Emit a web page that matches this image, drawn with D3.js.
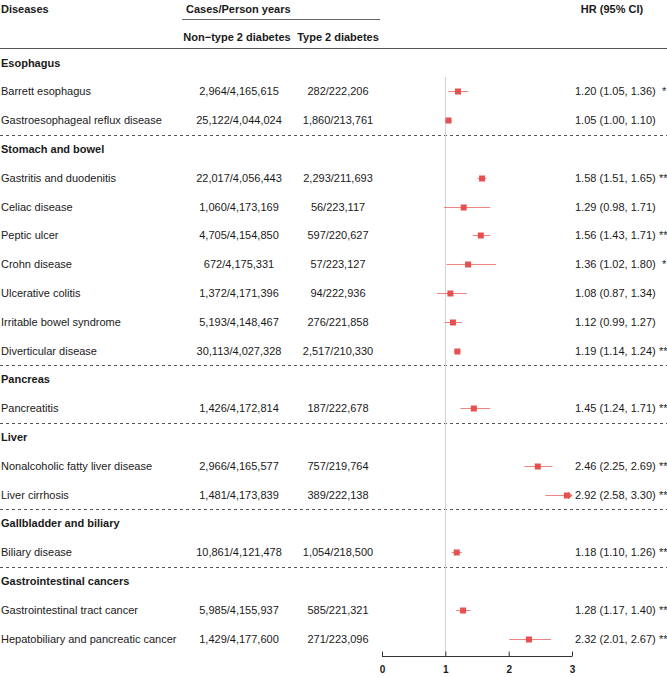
<!DOCTYPE html>
<html>
<head>
<meta charset="utf-8">
<script src="https://cdn.jsdelivr.net/npm/d3@7"></script>
<style>
  html, body { margin: 0; padding: 0; background: #fff; }
  svg { display: block; font-family: "Liberation Sans", Arial, Helvetica, sans-serif; }
</style>
</head>
<body>
<svg id="chart" width="667" height="677"></svg>
<script>
// ---------- data ----------
const rowLabels = [
  "Esophagus", "Barrett esophagus", "Gastroesophageal reflux disease",
  "Stomach and bowel", "Gastritis and duodenitis", "Celiac disease", "Peptic ulcer",
  "Crohn disease", "Ulcerative colitis", "Irritable bowel syndrome", "Diverticular disease",
  "Pancreas", "Pancreatitis",
  "Liver", "Nonalcoholic fatty liver disease", "Liver cirrhosis",
  "Gallbladder and biliary", "Biliary disease",
  "Gastrointestinal cancers", "Gastrointestinal tract cancer", "Hepatobiliary and pancreatic cancer"
];
const isGroup = [1,0,0, 1,0,0,0,0,0,0,0, 1,0, 1,0,0, 1,0, 1,0,0];
const nonT2D = ["", "2,964/4,165,615", "25,122/4,044,024",
  "", "22,017/4,056,443", "1,060/4,173,169", "4,705/4,154,850", "672/4,175,331",
  "1,372/4,171,396", "5,193/4,148,467", "30,113/4,027,328",
  "", "1,426/4,172,814",
  "", "2,966/4,165,577", "1,481/4,173,839",
  "", "10,861/4,121,478",
  "", "5,985/4,155,937", "1,429/4,177,600"];
const t2d = ["", "282/222,206", "1,860/213,761",
  "", "2,293/211,693", "56/223,117", "597/220,627", "57/223,127",
  "94/222,936", "276/221,858", "2,517/210,330",
  "", "187/222,678",
  "", "757/219,764", "389/222,138",
  "", "1,054/218,500",
  "", "585/221,321", "271/223,096"];
const hr    = [null,1.20,1.05, null,1.58,1.29,1.56,1.36,1.08,1.12,1.19, null,1.45, null,2.46,2.92, null,1.18, null,1.28,2.32];
const lower = [null,1.05,1.00, null,1.51,0.98,1.43,1.02,0.87,0.99,1.14, null,1.24, null,2.25,2.58, null,1.10, null,1.17,2.01];
const upper = [null,1.36,1.10, null,1.65,1.71,1.71,1.80,1.34,1.27,1.24, null,1.71, null,2.69,3.30, null,1.26, null,1.40,2.67];
const stars = ["", "*", "", "", "**", "", "**", "*", "", "", "**", "", "**", "", "**", "**", "", "**", "", "**", "**"];
const xTicks = [0, 1, 2, 3];
const refValue = 1;

// ---------- layout ----------
const svg = d3.select("#chart");
const W = 667;
const y = d3.scaleLinear().domain([0, 20]).range([62.5, 638.5]);
const x = d3.scaleLinear().domain([0, 3]).range([382, 572]);
const colNon = 239, colT2 = 338, colHR = 575;
const txt = "#1a1a1a";
const red = "#e8504f";

// header
const hdr = svg.append("g").attr("font-weight", "bold").attr("font-size", 11).attr("fill", txt);
hdr.append("text").attr("x", 1).attr("y", 9).attr("dominant-baseline", "central").text("Diseases");
hdr.append("text").attr("x", 186).attr("y", 9).attr("dominant-baseline", "central").text("Cases/Person years");
hdr.append("text").attr("x", colNon - 2).attr("y", 37).attr("text-anchor", "middle").attr("dominant-baseline", "central").text("Non\u2212type 2 diabetes");
hdr.append("text").attr("x", colT2).attr("y", 37).attr("text-anchor", "middle").attr("dominant-baseline", "central").text("Type 2 diabetes");
hdr.append("text").attr("x", 612).attr("y", 9).attr("text-anchor", "middle").attr("dominant-baseline", "central").text("HR (95% CI)");

svg.append("line").attr("x1", 182).attr("x2", 380).attr("y1", 19.5).attr("y2", 19.5)
  .attr("stroke", "#666").attr("stroke-width", 1);
svg.append("line").attr("x1", 0).attr("x2", W).attr("y1", 48.5).attr("y2", 48.5)
  .attr("stroke", "#555").attr("stroke-width", 1);

// dashed separators before each group (except first)
const rows = d3.range(rowLabels.length);
rows.filter(i => isGroup[i] && i > 0).forEach(i => {
  svg.append("line").attr("x1", 0).attr("x2", W)
    .attr("y1", Math.round(y(i - 0.5)) + 0.5).attr("y2", Math.round(y(i - 0.5)) + 0.5)
    .attr("stroke", "#555").attr("stroke-width", 1).attr("stroke-dasharray", "3,3");
});

// reference line
svg.append("line").attr("x1", Math.round(x(refValue)) + 0.5).attr("x2", Math.round(x(refValue)) + 0.5)
  .attr("y1", 77).attr("y2", 656).attr("stroke", "#d4d4d4").attr("stroke-width", 1);

// row texts
const body = svg.append("g").attr("font-size", 11).attr("fill", txt);
rows.forEach(i => {
  const yy = y(i);
  body.append("text").attr("x", 1).attr("y", yy).attr("dominant-baseline", "central")
    .attr("font-weight", isGroup[i] ? "bold" : "normal").text(rowLabels[i]);
  if (!isGroup[i]) {
    body.append("text").attr("x", colNon).attr("y", yy).attr("text-anchor", "middle")
      .attr("dominant-baseline", "central").text(nonT2D[i]);
    body.append("text").attr("x", colT2).attr("y", yy).attr("text-anchor", "middle")
      .attr("dominant-baseline", "central").text(t2d[i]);
    const f = d3.format(".2f");
    body.append("text").attr("x", colHR).attr("y", yy).attr("dominant-baseline", "central")
      .text(`${f(hr[i])} (${f(lower[i])}, ${f(upper[i])})`);
    if (stars[i]) {
      body.append("text").attr("x", stars[i] === "**" ? 659 : 662).attr("y", yy)
        .attr("dominant-baseline", "central").text(stars[i]);
    }
  }
});

// CI and points
const dom = x.domain();
rows.filter(i => hr[i] != null).forEach(i => {
  const yy = Math.round(y(i)) + 0.5;
  const lo = Math.max(lower[i], dom[0]), hi = Math.min(upper[i], dom[1]);
  svg.append("line").attr("x1", x(lo)).attr("x2", x(hi)).attr("y1", yy).attr("y2", yy)
    .attr("stroke", red).attr("stroke-opacity", 0.7).attr("stroke-width", 1);
  if (upper[i] > dom[1]) {
    const ax = x(dom[1]);
    svg.append("path").attr("d", `M${ax - 4},${yy - 3} L${ax},${yy} L${ax - 4},${yy + 3}`)
      .attr("fill", "none").attr("stroke", red).attr("stroke-width", 1);
  }
  const s = 6;
  svg.append("rect").attr("x", x(hr[i]) - s / 2).attr("y", yy - s / 2)
    .attr("width", s).attr("height", s).attr("fill", red);
});

// x axis (ticks upward)
const axisY = 656;
const axis = d3.axisTop(x).tickValues(xTicks).tickSize(5).tickFormat(d3.format("d"));
const ag = svg.append("g").attr("transform", `translate(0,${axisY + 0.5})`).call(axis);
ag.select(".domain").attr("stroke", "#333").attr("d", `M${x(dom[0])},0H${x(dom[1])}`);
ag.selectAll(".tick line").attr("stroke", "#333");
ag.selectAll(".tick text").attr("y", 13).attr("dy", "0.32em")
  .attr("font-size", 10).attr("font-weight", "bold").attr("fill", txt)
  .attr("font-family", "Liberation Sans, Arial, sans-serif");
</script>
</body>
</html>
